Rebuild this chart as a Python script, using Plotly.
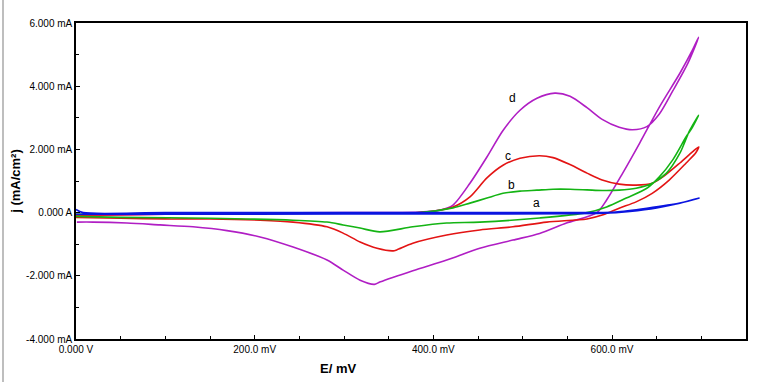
import plotly.graph_objects as go

# ---- data (E in mV, j in mA/cm^2) ----
d_fwd_E = [0, 100, 200, 300, 385, 410, 422, 441, 460, 478, 497, 516, 536, 553, 572, 589, 608, 623, 639, 653, 668, 685, 697]
d_fwd_j = [-0.1, -0.05, -0.02, 0.0, 0.02, 0.1, 0.24, 0.93, 1.76, 2.6, 3.24, 3.62, 3.78, 3.68, 3.32, 2.95, 2.7, 2.62, 2.72, 3.12, 3.85, 4.73, 5.55]
d_rev_E = [690, 676, 653, 631, 612, 594, 583, 549, 519, 489, 452, 415, 377, 340, 334, 318, 299, 281, 243, 206, 169, 131, 94, 57, 19, 1]
d_rev_j = [5.14, 4.41, 3.34, 2.2, 1.25, 0.4, 0.0, -0.33, -0.66, -0.87, -1.13, -1.5, -1.84, -2.2, -2.27, -2.14, -1.82, -1.5, -1.09, -0.77, -0.57, -0.45, -0.39, -0.33, -0.3, -0.3]

c_fwd_E = [0, 100, 200, 300, 385, 422, 441, 460, 478, 497, 519, 534, 553, 572, 589, 608, 627, 645, 657, 676, 690, 697]
c_fwd_j = [-0.08, -0.05, -0.03, -0.01, 0.0, 0.18, 0.5, 1.1, 1.5, 1.72, 1.8, 1.74, 1.52, 1.25, 1.03, 0.9, 0.87, 0.93, 1.13, 1.57, 1.92, 2.08]
c_rev_E = [694, 683, 664, 645, 627, 608, 590, 572, 527, 489, 452, 415, 377, 359, 355, 337, 318, 299, 281, 243, 206, 150, 100, 50, 0]
c_rev_j = [1.9, 1.57, 1.03, 0.61, 0.34, 0.14, -0.07, -0.2, -0.3, -0.45, -0.55, -0.71, -0.97, -1.18, -1.21, -1.13, -0.93, -0.65, -0.45, -0.3, -0.24, -0.2, -0.2, -0.18, -0.15]

b_fwd_E = [0, 100, 200, 300, 385, 422, 441, 460, 478, 497, 516, 534, 553, 572, 589, 608, 627, 645, 661, 676, 687, 697]
b_fwd_j = [-0.05, -0.03, -0.02, -0.01, 0.0, 0.15, 0.3, 0.46, 0.61, 0.68, 0.71, 0.74, 0.74, 0.72, 0.7, 0.71, 0.77, 0.93, 1.25, 1.88, 2.6, 3.08]
b_rev_E = [690, 683, 668, 653, 639, 616, 594, 572, 519, 452, 415, 377, 340, 318, 299, 281, 243, 150, 50, 0]
b_rev_j = [2.7, 2.4, 1.67, 1.13, 0.77, 0.46, 0.18, 0.0, -0.17, -0.3, -0.33, -0.45, -0.61, -0.49, -0.39, -0.3, -0.24, -0.18, -0.15, -0.12]

a_fwd_E = [0, 8, 100, 300, 500, 583, 604, 639, 676, 698]
a_fwd_j = [0.1, 0.0, 0.0, 0.0, 0.0, 0.0, 0.02, 0.14, 0.3, 0.46]
a_rev_E = [680, 650, 620, 590, 400, 200, 0]
a_rev_j = [0.33, 0.15, 0.04, -0.02, -0.04, -0.05, -0.05]

labels = ["d", "c", "b", "a"]
label_E = [489, 484, 488, 516]
label_j = [3.63, 1.79, 0.87, 0.3]

x_tickvals = [0, 200, 400, 600]
x_ticktext = ["0.000 V", "200.0 mV", "400.0 mV", "600.0 mV"]
y_tickvals = [6, 4, 2, 0, -2, -4]
y_ticktext = ["6.000 mA", "4.000 mA", "2.000 mA", "0.000 A", "-2.000 mA", "-4.000 mA"]

colors = {"d": "#b01ec4", "c": "#e31414", "b": "#14b414", "a": "#0a14e0"}

fig = go.Figure()
curves = [
    ("d", d_fwd_E, d_fwd_j, d_rev_E, d_rev_j),
    ("c", c_fwd_E, c_fwd_j, c_rev_E, c_rev_j),
    ("b", b_fwd_E, b_fwd_j, b_rev_E, b_rev_j),
    ("a", a_fwd_E, a_fwd_j, a_rev_E, a_rev_j),
]
for name, fe, fj, re_, rj in curves:
    fig.add_trace(go.Scatter(
        x=fe + re_, y=fj + rj, mode="lines",
        line=dict(color=colors[name], width=1.6, shape="spline", smoothing=0.8),
        showlegend=False, hoverinfo="skip"))

for t, e, j in zip(labels, label_E, label_j):
    fig.add_annotation(x=e, y=j, text=t, showarrow=False,
                       font=dict(family="Liberation Sans, Arial", size=12, color="black"))

fig.add_annotation(xref="paper", yref="paper", x=(338 - 76) / 670, y=-(368 - 339) / 316,
                   text="<b>E/ mV</b>", showarrow=False, xanchor="center", yanchor="middle",
                   font=dict(family="Liberation Sans, Arial", size=13, color="black"))

fig.add_shape(type="line", xref="paper", yref="paper",
              x0=(3 - 76) / 670, x1=(3 - 76) / 670, y0=(339 - 0) / 316, y1=-(382 - 339) / 316,
              line=dict(color="#a8a8a8", width=1.5))

fig.update_layout(
    width=780, height=382,
    margin=dict(l=76, r=34, t=23, b=43),
    paper_bgcolor="white", plot_bgcolor="white",
    font=dict(family="Liberation Sans, Arial", size=10, color="black"),
    xaxis=dict(range=[0, 750], tickvals=x_tickvals, ticktext=x_ticktext,
               ticks="inside", ticklen=4, tickcolor="black",
               minor=dict(dtick=50, tick0=0, ticks="inside", ticklen=3, tickcolor="black"),
               showline=True, linecolor="black", linewidth=1.5, mirror=True,
               showgrid=False, zeroline=False, fixedrange=True,
               tickfont=dict(size=10)),
    yaxis=dict(range=[-4, 6], tickvals=y_tickvals, ticktext=y_ticktext,
               ticks="inside", ticklen=4, tickcolor="black",
               minor=dict(dtick=1, tick0=0, ticks="inside", ticklen=3, tickcolor="black"),
               showline=True, linecolor="black", linewidth=1.5, mirror=True,
               showgrid=False, zeroline=False, fixedrange=True,
               title=dict(text="<b>j (mA/cm²)</b>", font=dict(size=13), standoff=3),
               tickfont=dict(size=10)),
)

fig.write_html("out.html")
